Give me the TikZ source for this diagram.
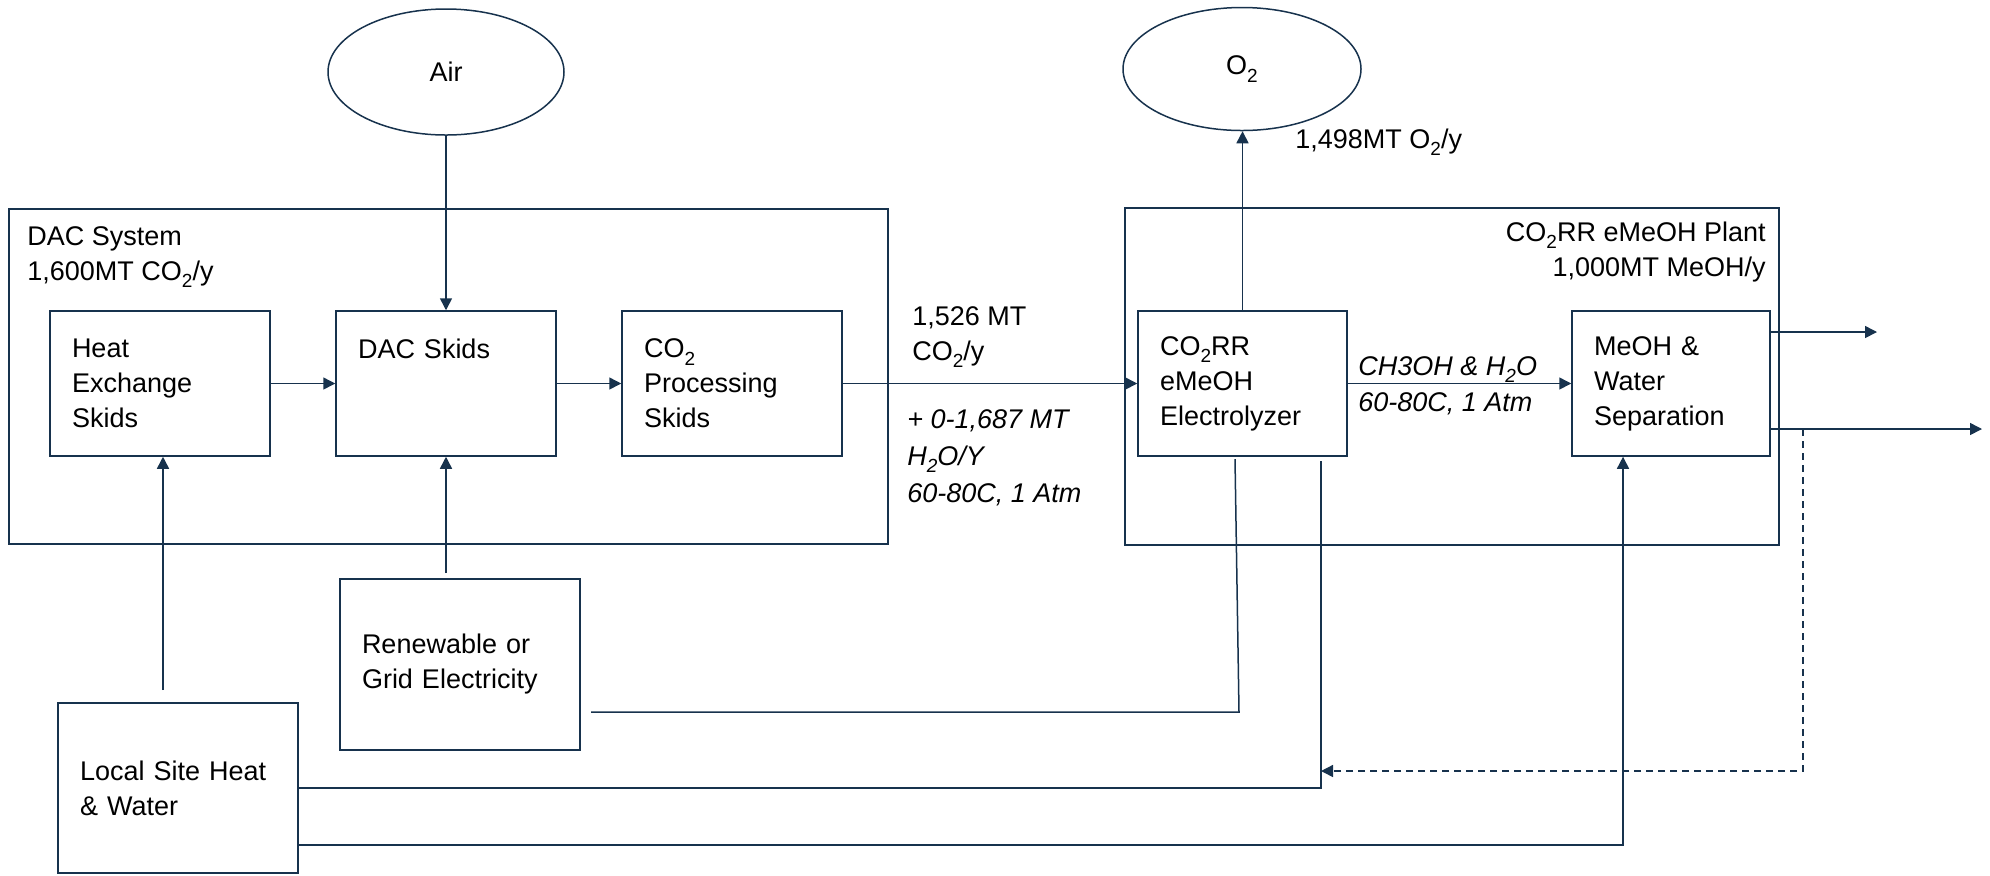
\documentclass[tikz,border=0pt]{standalone}
\usepackage{fontspec}
\setmainfont{Liberation Sans}
\usepackage{tikz}
\usetikzlibrary{shapes.geometric, arrows.meta}
\usepackage{xcolor}
\definecolor{navy}{RGB}{23,50,77}
\newcommand{\subtwo}{\raisebox{-0.55ex}{\fontsize{9.5}{9.5}\selectfont 2}}

\begin{document}
\begin{tikzpicture}[x=0.5pt, y=-0.5pt,
  every node/.style={font=\fontsize{13.5}{17.5}\selectfont, text=black},
  unit/.style={draw=navy, line width=0.75pt, align=left, inner xsep=11pt, inner ysep=0pt, minimum height=72.5pt},
  frame/.style={draw=navy, line width=0.75pt, inner sep=0pt},
  source/.style={draw=navy, line width=0.75pt, ellipse, inner sep=0pt},
  lbl/.style={align=left, inner sep=0pt},
  flow/.style={draw=navy, line width=0.75pt, -{Triangle[length=6pt, width=6pt]}},
  pipe/.style={draw=navy, line width=0.75pt}]
  \useasboundingbox (0,0) rectangle (1990,875);

  \node[frame, minimum width=439.5pt, minimum height=167.5pt] (dacsys) at (448.5,376.5) {};
  \node[frame, minimum width=327pt, minimum height=168.5pt] (plant) at (1452,376.5) {};

  \node[source, minimum width=118pt, minimum height=63pt] (air) at (446,72) {Air};
  \node[source, minimum width=119pt, minimum height=61.5pt] (oxy) at (1242,69) {O\subtwo};

  \node[unit, text width=88pt] (hx) at (160,383.5) {Heat\\Exchange\\Skids};
  \node[unit, text width=88pt] (dac) at (446,383.5) {DAC Skids\\\mbox{}\\\mbox{}};
  \node[unit, text width=88pt] (proc) at (732,383.5) {CO\subtwo\\Processing\\Skids};
  \node[unit, text width=82.5pt] (elec) at (1242.5,383.5) {CO\subtwo RR\\eMeOH\\Electrolyzer};
  \node[unit, text width=77pt] (sep) at (1671,383.5) {MeOH \&\\Water\\Separation};
  \node[unit, text width=98pt, minimum height=85.5pt] (ren) at (460,664.5) {Renewable or\\Grid Electricity};
  \node[unit, text width=98pt, minimum height=85pt] (site) at (178,788) {Local Site Heat\\\& Water};

  \node[lbl, anchor=base west] (dacsyslbl) at (27,280) {DAC System\\1,600MT CO\subtwo/y};
  \node[lbl, anchor=base east, align=right] (plantlbl) at (1766,276) {CO\subtwo RR eMeOH Plant\\1,000MT MeOH/y};
  \node[lbl, anchor=base west] (co2lbl) at (912,360) {1,526 MT\\CO\subtwo/y};
  \node[lbl, anchor=base west, font=\fontsize{13.5}{18.5}\selectfont\itshape] (waterlbl) at (907,502) {+ 0-1,687 MT\\H\subtwo O/Y\\60-80C, 1 Atm};
  \node[lbl, anchor=base west, font=\fontsize{13.5}{18}\selectfont\itshape] (mixlbl) at (1358,411) {CH3OH \& H\subtwo O\\60-80C, 1 Atm};
  \node[lbl, anchor=base west] (o2lbl) at (1295,148) {1,498MT O\subtwo/y};

  \coordinate (prodA) at (1877,332);
  \coordinate (prodB) at (1982,429);
  \coordinate (recyTop) at (1803,429);
  \coordinate (recyTurn) at (1803,771);
  \coordinate (heatTurn) at (1321,788);
  \coordinate (heatEnd) at (1321,461);
  \coordinate (siteUp) at (163,690);
  \coordinate (renUp) at (446,573);
  \coordinate (pwrStart) at (591,712);
  \coordinate (pwrTurn) at (1239,712);
  \coordinate (pwrEnd) at (1235,459);
  \coordinate (sepTurn) at (1623,845);

  \draw[flow] (air) -- (dac);
  \draw[flow] (hx) -- (dac);
  \draw[flow] (dac) -- (proc);
  \draw[flow] (proc) -- (elec);
  \draw[flow] (elec) -- (sep);
  \draw[flow] (elec.north) -- (elec.north |- oxy.south);
  \draw[flow] (sep.east |- prodA) -- (prodA);
  \draw[flow] (sep.east |- prodB) -- (prodB);
  \draw[flow, dash pattern=on 3.5pt off 2.5pt] (recyTop) -- (recyTurn) -- (heatTurn |- recyTurn);
  \draw[flow] (siteUp) -- (siteUp |- hx.south);
  \draw[flow] (renUp) -- (dac.south);
  \draw[pipe] (pwrStart) -- (pwrTurn) -- (pwrEnd);
  \draw[pipe] (site.east) -- (heatTurn) -- (heatEnd);
  \draw[flow] (site.east |- sepTurn) -- (sepTurn) -- (sepTurn |- sep.south);
\end{tikzpicture}
\end{document}
